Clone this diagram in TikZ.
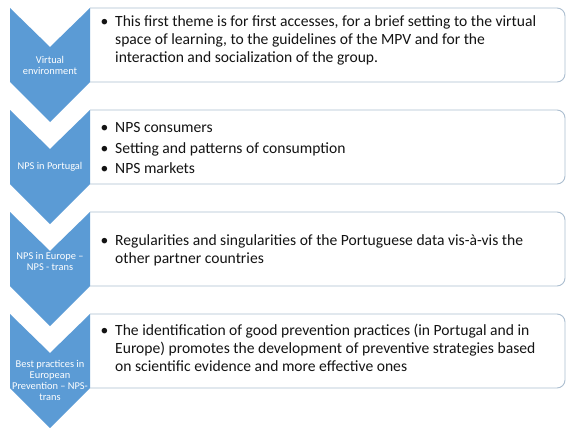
\documentclass[tikz,border=0pt]{standalone}
\usepackage{fontspec}
\setmainfont{Carlito}
\definecolor{chev}{HTML}{5B9BD5}
\definecolor{boxline}{RGB}{172,190,208}
\definecolor{txt}{RGB}{20,20,20}
\newcommand\mkchevron[1]{%
  \fill[chev] (10,#1) -- (50,{#1+39}) -- (90,#1) -- (90,{#1+74}) -- (50,{#1+114}) -- (10,{#1+74}) -- cycle;}
\newcommand\mkbox[1]{%
  \fill[white] (90,#1) -- (557,#1) .. controls (561.4,#1) and (565,{#1+3.6}) .. (565,{#1+8}) -- (565,{#1+66}) .. controls (565,{#1+70.4}) and (561.4,{#1+74}) .. (557,{#1+74}) -- (90,{#1+74}) -- cycle;
  \draw[listbox] (90,#1) -- (557,#1) .. controls (561.4,#1) and (565,{#1+3.6}) .. (565,{#1+8}) -- (565,{#1+66}) .. controls (565,{#1+70.4}) and (561.4,{#1+74}) .. (557,{#1+74}) -- (90,{#1+74});}
\begin{document}
\begin{tikzpicture}[x=1pt,y=-1pt,
  listbox/.style={draw=boxline,line width=0.9pt},
  chevtext/.style={text=white,font=\fontsize{10.4}{11}\selectfont,align=center,inner sep=0pt},
  item/.style={anchor=base west,inner sep=0pt,font=\fontsize{15.6}{18}\selectfont,text=txt},
  bul/.style={anchor=base,inner sep=0pt,font=\fontsize{15.6}{18}\selectfont,text=txt}]
\useasboundingbox (0,0) rectangle (568,428);
\fill[white] (0,0) rectangle (568,428);
% boxes
\mkbox{8}
\mkbox{110}
\mkbox{212}
\mkbox{314}
% chevrons
\mkchevron{8}
\mkchevron{110}
\mkchevron{212}
\mkchevron{314}
% chevron labels
\node[chevtext] (c1) at (50,65) {Virtual\\environment};
\node[chevtext] (c2) at (50,167) {NPS in Portugal};
\node[chevtext] (c3) at (50,261.5) {NPS in Europe –\\NPS - trans};
\node[chevtext] (c4) at (50,380.5) {Best practices in\\European\\Prevention – NPS-\\trans};
% box 1
\node[bul] (b1) at (104.5,26.5) {•};
\node[item] (t1a) at (115,26.5) {This first theme is for first accesses, for a brief setting to the virtual};
\node[item] (t1b) at (115,44.5) {space of learning, to the guidelines of the MPV and for the};
\node[item] (t1c) at (115,62.5) {interaction and socialization of the group.};
% box 2
\node[bul] (b2a) at (104.5,132.5) {•};
\node[item] (t2a) at (115,132.5) {NPS consumers};
\node[bul] (b2b) at (104.5,153) {•};
\node[item] (t2b) at (115,153) {Setting and patterns of consumption};
\node[bul] (b2c) at (104.5,173.5) {•};
\node[item] (t2c) at (115,173.5) {NPS markets};
% box 3
\node[bul] (b3) at (104.5,245.5) {•};
\node[item] (t3a) at (115,245.5) {Regularities and singularities of the Portuguese data vis-à-vis the};
\node[item] (t3b) at (115,263.5) {other partner countries};
% box 4
\node[bul] (b4) at (104.5,335) {•};
\node[item] (t4a) at (115,335) {The identification of good prevention practices (in Portugal and in};
\node[item] (t4b) at (115,353) {Europe) promotes the development of preventive strategies based};
\node[item] (t4c) at (115,371) {on scientific evidence and more effective ones};
\end{tikzpicture}
\end{document}
